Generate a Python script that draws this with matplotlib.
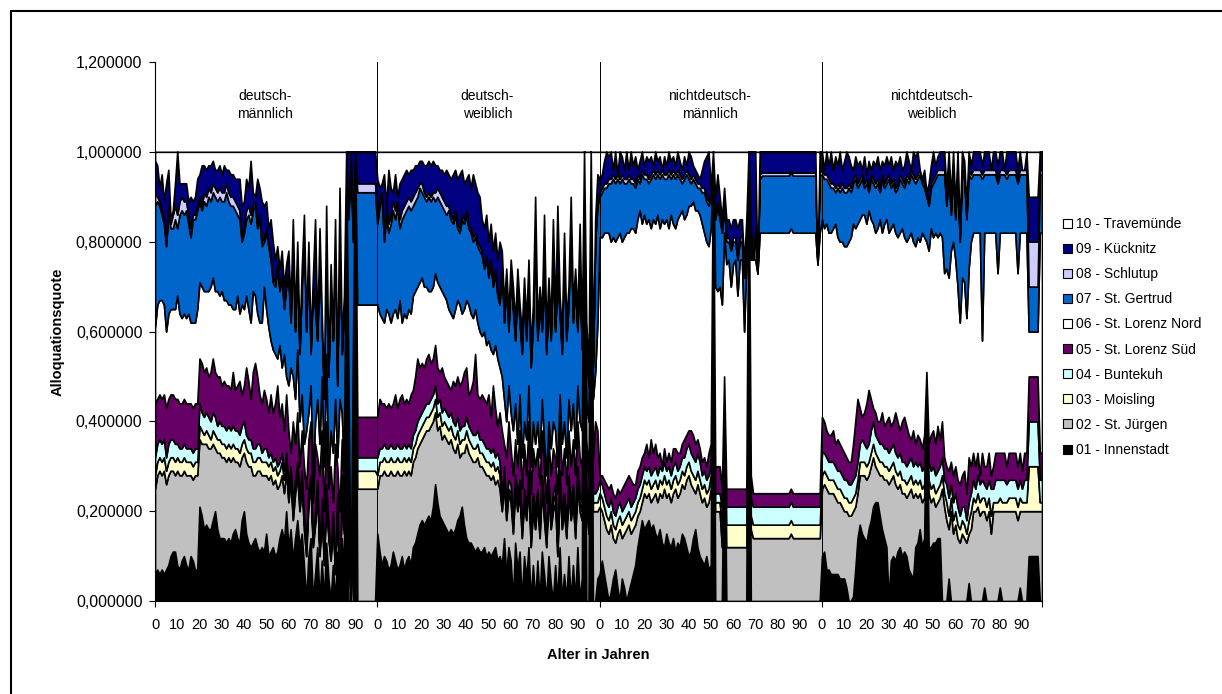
import numpy as np
import matplotlib.pyplot as plt
from matplotlib.patches import Patch, Rectangle
from matplotlib.ticker import FuncFormatter

plt.rcParams["font.family"] = ["Liberation Sans", "DejaVu Sans"]

bezirke = ["01 - Innenstadt", "02 - St. Jürgen", "03 - Moisling", "04 - Buntekuh",
           "05 - St. Lorenz Süd", "06 - St. Lorenz Nord", "07 - St. Gertrud",
           "08 - Schlutup", "09 - Kücknitz", "10 - Travemünde"]
farben = ["#000000", "#C0C0C0", "#FFFFCC", "#CCFFFF", "#660066",
          "#FFFFFF", "#0066CC", "#CCCCFF", "#000080", "#FFFFFF"]
gruppen = ["deutsch-\nmännlich", "deutsch-\nweiblich",
           "nichtdeutsch-\nmännlich", "nichtdeutsch-\nweiblich"]
alter_labels = ["0", "10", "20", "30", "40", "50", "60", "70", "80", "90"]

# Obergrenze jeder gestapelten Flaeche in Prozent, je Gruppe Alter 0-99
# dm = deutsch-maennlich, dw = deutsch-weiblich, nm/nw = nichtdeutsch
innenstadt_dm = [6, 7, 6, 7, 6, 7, 8, 10, 11, 11, 8, 7, 9, 10, 8, 7, 10, 9, 7, 7,
                 21, 19, 16, 17, 16, 16, 18, 20, 16, 14, 14, 14, 13, 14, 13, 15, 16, 14, 13, 18,
                 20, 15, 13, 12, 13, 14, 12, 11, 12, 11, 15, 10, 11, 12, 10, 11, 14, 16, 13, 20,
                 12, 16, 9, 14, 18, 12, 15, 8, 0, 10, 14, 0, 6, 12, 0, 9, 0, 13, 5, 0,
                 8, 0, 11, 0, 14, 6, 100, 0, 0, 0, 100, 0, 0, 0, 0, 0, 0, 0, 0, 0]
st_juergen_dm = [25, 28, 29, 28, 29, 26, 28, 29, 29, 28, 29, 28, 28, 29, 28, 28, 28, 27, 28, 28,
                 36, 35, 35, 35, 34, 34, 35, 34, 33, 33, 32, 32, 31, 32, 31, 32, 31, 31, 30, 32,
                 33, 31, 30, 30, 28, 28, 29, 29, 28, 28, 28, 27, 28, 26, 27, 25, 26, 28, 24, 29,
                 22, 27, 18, 24, 28, 20, 26, 16, 10, 22, 25, 12, 17, 24, 10, 20, 8, 24, 14, 9,
                 18, 6, 22, 0, 26, 15, 100, 20, 0, 30, 100, 25, 25, 25, 25, 25, 25, 25, 25, 25]
moisling_dm = [28, 31, 32, 31, 32, 29, 31, 32, 32, 31, 32, 31, 31, 32, 31, 31, 31, 30, 31, 31,
               39, 38, 37, 38, 37, 36, 38, 37, 36, 36, 35, 35, 34, 35, 34, 35, 34, 34, 33, 35,
               36, 34, 33, 33, 31, 31, 32, 32, 31, 31, 31, 30, 31, 29, 30, 28, 29, 31, 27, 31,
               24, 28, 20, 26, 30, 22, 27, 18, 12, 23, 27, 13, 18, 25, 11, 22, 9, 25, 15, 10,
               19, 7, 23, 0, 27, 16, 100, 22, 0, 32, 100, 29, 29, 29, 29, 29, 29, 29, 29, 29]
buntekuh_dm = [32, 35, 36, 35, 36, 32, 35, 36, 36, 35, 35, 34, 34, 35, 34, 34, 34, 33, 34, 34,
               44, 42, 41, 42, 41, 40, 42, 41, 39, 40, 39, 39, 38, 39, 38, 39, 38, 38, 37, 39,
               40, 37, 36, 36, 34, 34, 35, 35, 33, 34, 34, 32, 33, 31, 32, 30, 31, 33, 29, 33,
               26, 30, 22, 27, 31, 24, 29, 19, 14, 25, 28, 14, 20, 27, 12, 23, 10, 26, 17, 11,
               20, 8, 24, 0, 28, 17, 100, 24, 0, 35, 100, 32, 32, 32, 32, 32, 32, 32, 32, 32]
lorenz_sued_dm = [44, 45, 46, 45, 46, 43, 45, 46, 46, 45, 45, 44, 44, 45, 44, 44, 44, 43, 44, 44,
                  54, 53, 51, 52, 50, 51, 54, 51, 50, 50, 48, 49, 48, 48, 47, 51, 47, 48, 49, 46,
                  48, 52, 49, 45, 51, 53, 50, 46, 44, 47, 45, 42, 46, 42, 44, 48, 41, 44, 38, 46,
                  38, 33, 40, 35, 42, 30, 38, 30, 25, 36, 40, 22, 35, 32, 28, 38, 20, 40, 25, 30,
                  22, 35, 30, 20, 36, 25, 100, 30, 0, 45, 100, 41, 41, 41, 41, 41, 41, 41, 41, 41]
lorenz_nord_dm = [61, 66, 67, 67, 66, 60, 64, 65, 65, 65, 68, 64, 63, 64, 63, 64, 62, 62, 62, 65,
                  71, 70, 69, 69, 69, 70, 72, 69, 69, 68, 69, 67, 67, 66, 66, 65, 65, 68, 64, 66,
                  65, 68, 65, 62, 69, 68, 64, 62, 62, 70, 65, 61, 58, 56, 55, 54, 57, 52, 55, 50,
                  48, 52, 50, 45, 56, 40, 46, 35, 38, 42, 48, 28, 40, 45, 35, 50, 30, 55, 28, 38,
                  33, 45, 32, 45, 42, 30, 100, 50, 0, 55, 100, 66, 66, 66, 66, 66, 66, 66, 66, 66]
st_gertrud_dm = [88, 89, 88, 86, 84, 79, 87, 83, 83, 85, 83, 86, 87, 86, 87, 84, 81, 85, 85, 87,
                 89, 87, 89, 88, 90, 89, 91, 90, 89, 90, 89, 89, 91, 89, 88, 88, 87, 86, 85, 80,
                 82, 85, 86, 84, 87, 88, 83, 85, 79, 80, 82, 79, 76, 71, 70, 74, 69, 72, 65, 70,
                 72, 62, 80, 60, 75, 55, 70, 84, 60, 78, 55, 70, 65, 58, 80, 62, 45, 85, 50, 72,
                 58, 82, 48, 90, 55, 65, 100, 85, 100, 80, 100, 91, 91, 91, 91, 91, 91, 91, 91, 91]
schlutup_dm = [91, 90, 89, 87, 85, 80, 88, 84, 86, 88, 86, 89, 90, 89, 89, 86, 83, 86, 86, 88,
               90, 88, 91, 90, 92, 91, 93, 92, 91, 92, 91, 91, 93, 91, 90, 90, 89, 88, 87, 81,
               84, 87, 88, 86, 88, 89, 84, 86, 80, 81, 83, 80, 77, 72, 71, 75, 70, 73, 66, 71,
               73, 63, 81, 61, 76, 56, 71, 85, 61, 79, 56, 70, 66, 58, 81, 62, 46, 86, 50, 73,
               58, 83, 48, 90, 55, 66, 100, 86, 100, 82, 100, 93, 93, 93, 93, 93, 93, 93, 93, 93]
kuecknitz_dm = [98, 97, 92, 95, 89, 93, 96, 85, 87, 93, 100, 93, 93, 93, 93, 89, 90, 89, 90, 94,
                95, 97, 97, 96, 97, 97, 98, 96, 96, 97, 95, 97, 96, 96, 95, 95, 94, 94, 94, 88,
                89, 94, 92, 98, 91, 90, 94, 92, 89, 88, 89, 83, 85, 80, 76, 79, 74, 78, 70, 75,
                78, 66, 85, 63, 80, 58, 74, 86, 62, 80, 58, 72, 85, 60, 83, 64, 48, 88, 52, 75,
                60, 85, 50, 92, 58, 68, 100, 100, 100, 100, 100, 100, 100, 100, 100, 100, 100, 100, 100, 100]

innenstadt_dw = [15, 11, 8, 10, 9, 7, 8, 11, 9, 7, 8, 10, 7, 9, 10, 8,
                 12, 13, 15, 17, 18, 17, 18, 19, 18, 21, 26, 22, 19, 18, 17, 16,
                 15, 16, 15, 16, 18, 19, 21, 17, 14, 13, 13, 12, 11, 12, 11, 11,
                 12, 10, 11, 10, 11, 12, 9, 10,
                 8, 14, 6, 12, 9, 0, 13, 7, 11, 0, 10, 5, 12, 0, 8, 0, 9, 0, 11, 6,
                 0, 10, 4, 0, 8, 0, 12, 0, 6, 0, 10, 0, 8, 0, 12, 0, 5, 100, 0, 0, 100, 0, 0, 5]
st_juergen_dw = [25, 28, 28, 29, 28, 28, 29, 28, 28, 29, 28, 28, 29, 28, 29, 28,
                 31, 32, 34, 35, 36, 37, 38, 38, 39, 40, 42, 38, 39, 36, 37, 36,
                 35, 36, 34, 33, 35, 32, 33, 33, 35, 33, 32, 31, 31, 32, 30, 30,
                 29, 28, 28, 27, 28, 26, 27, 25,
                 20, 26, 18, 24, 22, 15, 25, 20, 24, 14, 22, 18, 26, 12, 20, 16, 22, 14, 25, 18,
                 12, 24, 16, 20, 22, 10, 26, 16, 20, 14, 24, 18, 22, 14, 26, 20, 18, 100, 22, 15, 100, 20, 20, 20]
moisling_dw = [28, 31, 31, 32, 31, 31, 32, 31, 31, 32, 31, 31, 32, 31, 32, 31,
               34, 35, 37, 38, 39, 40, 41, 41, 42, 43, 45, 41, 42, 39, 40, 39,
               38, 39, 37, 36, 38, 35, 36, 36, 38, 36, 35, 34, 34, 35, 33, 33,
               32, 31, 31, 30, 31, 29, 30, 28,
               22, 28, 20, 25, 24, 17, 27, 22, 26, 16, 23, 20, 28, 14, 22, 18, 24, 16, 26, 20,
               14, 25, 18, 22, 24, 12, 28, 18, 22, 16, 26, 20, 24, 16, 28, 22, 20, 100, 24, 17, 100, 22, 22, 22]
buntekuh_dw = [32, 34, 34, 35, 34, 34, 35, 34, 34, 35, 34, 34, 35, 34, 35, 34,
               37, 38, 40, 41, 42, 43, 44, 44, 45, 46, 48, 44, 45, 42, 43, 42,
               41, 42, 40, 39, 41, 38, 39, 39, 41, 39, 38, 37, 37, 38, 36, 36,
               35, 34, 34, 33, 34, 32, 33, 31,
               24, 30, 22, 27, 26, 19, 28, 24, 27, 17, 25, 21, 29, 15, 24, 20, 25, 17, 28, 22,
               15, 27, 19, 24, 26, 14, 29, 20, 24, 18, 28, 22, 26, 18, 30, 24, 22, 100, 26, 19, 100, 24, 24, 25]
lorenz_sued_dw = [41, 45, 44, 44, 43, 44, 43, 44, 46, 43, 45, 46, 44, 45, 44, 46,
                  47, 50, 54, 52, 53, 52, 54, 55, 53, 54, 57, 52, 51, 52, 50, 49,
                  48, 47, 49, 48, 50, 48, 49, 51, 52, 46, 47, 49, 55, 46, 45, 46,
                  45, 44, 46, 41, 48, 43, 39, 42,
                  38, 35, 32, 40, 34, 28, 36, 30, 38, 25, 35, 28, 40, 24, 34, 30, 34, 26, 38, 30,
                  22, 36, 28, 34, 32, 24, 40, 28, 34, 26, 38, 30, 36, 28, 40, 32, 30, 100, 36, 28, 100, 32, 40, 38]
lorenz_nord_dw = [66, 64, 63, 62, 65, 64, 62, 64, 65, 63, 67, 62, 64, 63, 65, 64,
                  68, 69, 70, 71, 72, 70, 70, 69, 69, 70, 73, 71, 70, 69, 68, 67,
                  65, 64, 63, 65, 67, 66, 64, 65, 67, 66, 64, 63, 65, 62, 60, 59,
                  60, 57, 58, 56, 55, 57, 54, 52,
                  50, 45, 40, 48, 42, 38, 44, 35, 46, 32, 40, 36, 48, 30, 40, 35, 40, 32, 45, 36,
                  28, 40, 34, 40, 38, 30, 46, 35, 40, 32, 45, 38, 44, 34, 48, 40, 38, 100, 45, 40, 100, 45, 51, 62]
st_gertrud_dw = [84, 88, 90, 80, 86, 82, 84, 87, 85, 88, 83, 85, 86, 87, 88, 87,
                 88, 89, 90, 92, 91, 90, 89, 90, 89, 90, 89, 90, 89, 88, 87, 86,
                 87, 85, 84, 86, 83, 82, 85, 84, 86, 83, 82, 80, 81, 79, 78, 77,
                 74, 76, 72, 75, 70, 73, 68, 66,
                 75, 62, 70, 60, 72, 65, 58, 70, 62, 55, 68, 58, 72, 52, 62, 80, 58, 66, 60, 74,
                 55, 68, 58, 75, 60, 72, 64, 55, 78, 58, 66, 85, 62, 70, 60, 74, 56, 100, 58, 48, 100, 52, 80, 88]
schlutup_dw = [86, 90, 91, 82, 88, 84, 86, 89, 87, 89, 85, 87, 88, 89, 90, 89,
               90, 91, 92, 93, 93, 91, 90, 91, 90, 91, 91, 92, 91, 90, 89, 88,
               88, 86, 85, 87, 84, 83, 86, 85, 87, 84, 83, 81, 82, 80, 79, 78,
               75, 77, 73, 76, 71, 74, 69, 67,
               76, 63, 71, 61, 73, 66, 59, 71, 63, 56, 69, 59, 73, 53, 63, 82, 59, 67, 61, 75,
               56, 69, 59, 76, 61, 73, 65, 56, 79, 59, 67, 86, 63, 71, 61, 75, 57, 100, 59, 49, 100, 53, 81, 89]
kuecknitz_dw = [94, 92, 93, 95, 88, 96, 92, 91, 95, 90, 93, 94, 95, 96, 95, 96,
                96, 97, 97, 98, 98, 97, 97, 98, 97, 98, 97, 97, 96, 96, 95, 96,
                95, 94, 95, 96, 94, 95, 96, 93, 94, 95, 92, 95, 93, 91, 90, 85,
                83, 86, 80, 84, 78, 82, 76, 80,
                78, 66, 74, 64, 76, 70, 62, 74, 66, 60, 72, 62, 76, 56, 66, 90, 62, 70, 64, 86,
                60, 72, 62, 85, 64, 88, 68, 60, 82, 62, 70, 90, 66, 74, 64, 84, 60, 100, 62, 52, 100, 56, 85, 95]

innenstadt_nm = [6, 9, 6, 3, 0, 2, 5, 7, 3, 0, 5, 3, 0, 2, 4, 6,
                 8, 12, 15, 18, 16, 17, 18, 16, 17, 15, 14, 16, 13, 12, 15, 13,
                 12, 14, 11, 13, 12, 15, 14, 12, 10, 11, 14, 16, 12, 10, 9, 8, 10, 7,
                 8, 100, 0, 0, 0, 0, 45, 0, 0, 0, 0, 0, 0, 0, 0, 0, 0, 100, 0, 0,
                 0, 0, 0, 0, 0, 0, 0, 0, 0, 0, 0, 0, 0, 0, 0, 0, 0, 0, 0, 0,
                 0, 0, 0, 0, 0, 0, 0, 0, 0, 0]
st_juergen_nm = [21, 20, 18, 16, 15, 17, 14, 13, 15, 16, 14, 15, 16, 17, 15, 16,
                 17, 19, 20, 22, 24, 23, 24, 22, 23, 24, 22, 24, 23, 25, 23, 24,
                 22, 24, 25, 23, 24, 26, 25, 27, 28, 26, 25, 24, 26, 24, 22, 23, 21, 22,
                 25, 100, 20, 20, 20, 12, 46, 12, 12, 12, 12, 12, 12, 12, 12, 12, 12, 100, 16, 14,
                 14, 14, 14, 14, 14, 14, 14, 14, 14, 14, 14, 14, 14, 14, 14, 14, 15, 14, 14, 14,
                 14, 14, 14, 14, 14, 14, 14, 14, 14, 14]
moisling_nm = [24, 23, 21, 19, 18, 20, 17, 16, 18, 19, 17, 18, 19, 20, 18, 19,
               20, 22, 23, 25, 27, 26, 27, 25, 26, 27, 25, 27, 26, 28, 26, 27,
               25, 27, 28, 26, 27, 29, 28, 30, 31, 29, 28, 27, 29, 27, 25, 26, 24, 25,
               28, 100, 22, 22, 22, 17, 47, 17, 17, 17, 17, 17, 17, 17, 17, 17, 17, 100, 19, 17,
               17, 17, 17, 17, 17, 17, 17, 17, 17, 17, 17, 17, 17, 17, 17, 17, 18, 17, 17, 17,
               17, 17, 17, 17, 17, 17, 17, 17, 17, 17]
buntekuh_nm = [27, 26, 24, 22, 21, 23, 20, 19, 21, 22, 20, 21, 22, 23, 21, 22,
               23, 25, 26, 28, 30, 29, 30, 28, 29, 30, 28, 30, 29, 31, 29, 30,
               28, 30, 31, 29, 30, 32, 32, 34, 35, 33, 32, 31, 33, 31, 28, 29, 27, 28,
               31, 100, 24, 24, 24, 21, 48, 21, 21, 21, 21, 21, 21, 21, 21, 21, 21, 100, 23, 21,
               21, 21, 21, 21, 21, 21, 21, 21, 21, 21, 21, 21, 21, 21, 21, 21, 22, 21, 21, 21,
               21, 21, 21, 21, 21, 21, 21, 21, 21, 21]
lorenz_sued_nm = [28, 28, 27, 26, 25, 26, 24, 23, 25, 24, 25, 26, 27, 28, 27, 26,
                  26, 29, 30, 32, 33, 35, 32, 36, 33, 35, 32, 33, 30, 34, 31, 33,
                  31, 34, 34, 33, 33, 35, 36, 37, 38, 38, 37, 35, 36, 34, 31, 32, 30, 33,
                  35, 100, 30, 30, 30, 25, 50, 25, 25, 25, 25, 25, 25, 25, 25, 25, 25, 100, 28, 24,
                  24, 24, 24, 24, 24, 24, 24, 24, 24, 24, 24, 24, 24, 24, 24, 24, 25, 24, 24, 24,
                  24, 24, 24, 24, 24, 24, 24, 24, 24, 24]
lorenz_nord_nm = [81, 81, 82, 82, 82, 80, 81, 80, 81, 82, 80, 81, 82, 82, 83, 83,
                  82, 85, 87, 84, 86, 84, 85, 83, 85, 84, 86, 83, 85, 84, 85, 83,
                  86, 84, 83, 85, 86, 87, 85, 86, 88, 88, 89, 87, 87, 86, 84, 82, 80, 79,
                  83, 100, 70, 69, 70, 66, 82, 75, 76, 70, 75, 76, 68, 76, 76, 60, 76, 100, 76, 76,
                  76, 73, 82, 82, 82, 82, 82, 82, 82, 82, 82, 82, 82, 82, 82, 82, 83, 82, 82, 82,
                  82, 82, 82, 82, 82, 82, 82, 82, 75, 82]
st_gertrud_nm = [90, 91, 92, 92, 93, 93, 94, 93, 94, 93, 94, 93, 93, 94, 93, 93,
                 92, 94, 93, 95, 94, 94, 93, 94, 95, 94, 95, 94, 95, 94, 94, 95,
                 94, 95, 94, 95, 94, 93, 94, 95, 94, 93, 94, 93, 92, 92, 91, 91, 89, 88,
                 90, 100, 85, 88, 85, 82, 88, 80, 80, 78, 80, 80, 76, 80, 80, 72, 80, 100, 82, 76,
                 82, 73, 94, 94.7, 94.7, 94.7, 94.7, 94.7, 94.7, 94.7, 94.7, 94.7, 94.7, 94.7, 94.7, 94.7, 95.5, 94.7, 94.7, 94.7,
                 94.7, 94.7, 94.7, 94.7, 94.7, 94.7, 94.7, 94.7, 75, 94.7]
schlutup_nm = [91, 92, 93, 93, 94, 94, 95, 94, 95, 94, 95, 94, 94, 95, 94, 94,
               93, 95, 94, 96, 95, 95, 94, 95, 96, 95, 96, 95, 96, 95, 95, 96,
               95, 96, 95, 96, 95, 94, 95, 96, 95, 94, 95, 94, 93, 93, 92, 92, 90, 89,
               91, 100, 86, 89, 86, 83, 89, 81, 81, 79, 81, 81, 77, 81, 81, 73, 81, 100, 83, 76,
               83, 73, 95, 95.4, 95.4, 95.4, 95.4, 95.4, 95.4, 95.4, 95.4, 95.4, 95.4, 95.4, 95.4, 95.4, 96, 95.4, 95.4, 95.4,
               95.4, 95.4, 95.4, 95.4, 95.4, 95.4, 95.4, 95.4, 75, 95.4]
kuecknitz_nm = [94, 95, 98, 100, 99, 100, 96, 100, 95, 100, 99, 96, 100, 96, 100, 97,
                99, 96, 98, 100, 97, 99, 98, 99, 97, 100, 98, 99, 96, 99, 97, 100,
                98, 99, 97, 100, 98, 96, 99, 97, 100, 99, 97, 96, 95, 94, 96, 98, 99, 100,
                92, 100, 90, 95, 90, 85, 92, 85, 85, 83, 85, 85, 83, 85, 85, 75, 85, 100, 100, 100,
                100, 73, 100, 100, 100, 100, 100, 100, 100, 100, 100, 100, 100, 100, 100, 100, 100, 100, 100, 100,
                100, 100, 100, 100, 100, 100, 100, 100, 75, 100]

innenstadt_nw = [10, 11, 7, 7, 6, 6, 6, 6, 5, 5, 5, 3, 0, 0, 1,
                 7, 14, 17, 15, 14, 13, 16, 18, 21, 22, 22, 19, 16, 14, 12,
                 0, 9, 10, 9, 11, 12, 10, 11, 10, 7, 6, 5, 12, 13, 16,
                 12, 14, 50, 12, 12, 13, 13, 14, 14, 0,
                 0, 0, 5, 0, 0, 0, 0, 0, 0, 0, 0, 4, 0, 0, 0, 0, 0, 0, 3, 0,
                 0, 0, 0, 0, 0, 3, 0, 0, 0, 0, 0, 0, 0, 0, 3, 0, 0, 0, 10, 10,
                 10, 10, 10, 0, 0]
st_juergen_nw = [25, 26, 25, 24, 24, 24, 23, 22, 22, 21, 20, 20, 19, 19, 20,
                 21, 24, 28, 28, 28, 27, 28, 30, 32, 30, 29, 28, 28, 27, 27,
                 26, 27, 28, 26, 25, 26, 24, 24, 23, 24, 25, 23, 24, 23, 24,
                 22, 23, 50, 24, 22, 23, 21, 22, 23, 25,
                 21, 18, 16, 20, 15, 17, 14, 13, 15, 14, 13, 15, 16, 20, 20, 21, 19, 20, 20, 18,
                 20, 15, 20, 20, 20, 20, 20, 20, 20, 20, 20, 20, 20, 18, 20, 20, 20, 20, 20, 20,
                 20, 20, 20, 20, 20]
moisling_nw = [28, 29, 28, 27, 27, 27, 26, 25, 25, 24, 23, 23, 22, 22, 23,
               24, 27, 31, 31, 31, 30, 31, 33, 35, 33, 32, 31, 31, 30, 30,
               29, 30, 31, 29, 28, 29, 27, 27, 26, 27, 28, 26, 27, 26, 27,
               25, 26, 51, 27, 25, 26, 24, 25, 26, 28,
               24, 22, 19, 23, 18, 20, 17, 16, 18, 17, 15, 18, 20, 23, 22, 24, 22, 23, 23, 21,
               23, 19, 22, 22, 22, 23, 22, 22, 22, 23, 23, 23, 23, 21, 23, 22, 22, 22, 30, 30,
               30, 30, 30, 22, 22]
buntekuh_nw = [33, 33, 32, 31, 31, 31, 30, 29, 29, 28, 27, 27, 26, 26, 27,
               28, 31, 35, 36, 35, 34, 35, 38, 40, 37, 36, 35, 35, 34, 34,
               33, 34, 35, 33, 32, 33, 31, 31, 30, 31, 32, 30, 31, 30, 31,
               29, 30, 51, 31, 29, 30, 28, 29, 30, 32,
               27, 26, 23, 26, 22, 24, 21, 19, 21, 21, 18, 22, 24, 27, 25, 28, 26, 27, 26, 25,
               27, 25, 25, 27, 27, 27, 27, 27, 26, 27, 27, 27, 27, 25, 27, 25, 27, 27, 40, 40,
               40, 40, 40, 27, 27]
lorenz_sued_nw = [41, 40, 38, 37, 37, 38, 35, 36, 35, 34, 33, 32, 31, 31, 35,
                  40, 45, 43, 41, 42, 44, 47, 45, 43, 42, 40, 40, 42, 39, 40,
                  41, 39, 40, 42, 40, 38, 40, 41, 39, 37, 36, 38, 35, 37, 36,
                  34, 37, 51, 35, 37, 38, 35, 39, 36, 40,
                  32, 30, 29, 31, 28, 30, 27, 26, 28, 29, 24, 32, 30, 33, 30, 33, 28, 33, 30, 30,
                  33, 28, 30, 33, 33, 33, 33, 33, 30, 33, 33, 33, 33, 30, 33, 29, 33, 33, 50, 50,
                  50, 50, 50, 33, 33]
lorenz_nord_nw = [85, 83, 84, 82, 82, 83, 84, 81, 80, 80, 79, 79, 80, 81, 84,
                  83, 84, 85, 86, 86, 84, 87, 85, 84, 82, 83, 85, 82, 84, 85,
                  82, 83, 84, 82, 81, 82, 83, 81, 80, 81, 82, 80, 79, 81, 80,
                  82, 81, 80, 78, 83, 81, 82, 81, 82, 81,
                  73, 74, 72, 78, 80, 76, 70, 62, 72, 71, 63, 74, 80, 82, 82, 82, 82, 58, 82, 82,
                  82, 82, 82, 82, 73, 82, 82, 82, 82, 82, 82, 82, 82, 73, 82, 82, 82, 82, 60, 60,
                  60, 60, 60, 82, 82]
st_gertrud_nw = [95, 94, 94, 93, 92, 92, 91, 92, 91, 92, 91, 91, 92, 91, 93,
                 94, 92, 93, 94, 92, 93, 91, 94, 93, 92, 93, 91, 94, 92, 93,
                 94, 92, 93, 91, 92, 94, 93, 92, 94, 93, 95, 94, 93, 94, 95,
                 93, 92, 90, 88, 92, 93, 94, 95, 95, 95,
                 95, 88, 95, 86, 95, 85, 95, 80, 95, 94, 85, 95, 94, 95, 95, 95, 95, 94, 95, 95,
                 95, 95, 95, 95, 93, 95, 95, 95, 94, 95, 95, 95, 95, 93, 95, 95, 95, 95, 70, 70,
                 70, 70, 70, 95, 95]
schlutup_nw = [96, 95, 95, 94, 93, 93, 92, 93, 92, 93, 92, 92, 93, 92, 94,
               95, 93, 94, 95, 93, 94, 92, 95, 94, 93, 94, 92, 95, 93, 94,
               95, 93, 94, 92, 93, 95, 94, 93, 95, 94, 96, 95, 94, 95, 96,
               94, 93, 91, 89, 93, 94, 95, 96, 96, 96,
               96, 89, 96, 87, 96, 86, 96, 81, 96, 95, 86, 96, 95, 96, 96, 96, 96, 95, 96, 96,
               96, 96, 96, 96, 94, 96, 96, 96, 95, 96, 96, 96, 96, 94, 96, 96, 96, 96, 80, 80,
               80, 80, 80, 96, 96]
kuecknitz_nw = [100, 96, 100, 97, 100, 96, 99, 97, 100, 96, 98, 100, 99, 97, 96,
                99, 97, 98, 96, 99, 95, 98, 96, 98, 97, 99, 96, 98, 97, 99,
                97, 99, 96, 98, 97, 99, 96, 97, 100, 98, 95, 100, 99, 100, 94,
                91, 96, 88, 93, 97, 100, 97, 99, 100, 100,
                100, 92, 100, 90, 100, 88, 100, 83, 100, 98, 88, 100, 97, 100, 100, 100, 100, 97, 100, 100,
                100, 96, 100, 100, 97, 100, 100, 96, 100, 100, 100, 100, 100, 96, 100, 96, 96, 100, 90, 90,
                90, 90, 90, 100, 100]

innenstadt = innenstadt_dm + innenstadt_dw + innenstadt_nm + innenstadt_nw
st_juergen = st_juergen_dm + st_juergen_dw + st_juergen_nm + st_juergen_nw
moisling = moisling_dm + moisling_dw + moisling_nm + moisling_nw
buntekuh = buntekuh_dm + buntekuh_dw + buntekuh_nm + buntekuh_nw
lorenz_sued = lorenz_sued_dm + lorenz_sued_dw + lorenz_sued_nm + lorenz_sued_nw
lorenz_nord = lorenz_nord_dm + lorenz_nord_dw + lorenz_nord_nm + lorenz_nord_nw
st_gertrud = st_gertrud_dm + st_gertrud_dw + st_gertrud_nm + st_gertrud_nw
schlutup = schlutup_dm + schlutup_dw + schlutup_nm + schlutup_nw
kuecknitz = kuecknitz_dm + kuecknitz_dw + kuecknitz_nm + kuecknitz_nw

kanten = np.array([innenstadt, st_juergen, moisling, buntekuh, lorenz_sued,
                   lorenz_nord, st_gertrud, schlutup, kuecknitz], dtype=float) / 100
kanten = np.maximum.accumulate(kanten, axis=0)
kanten = np.vstack([kanten, np.ones(kanten.shape[1])])   # Travemuende fuellt bis 1
anteile = np.diff(np.vstack([np.zeros(kanten.shape[1]), kanten]), axis=0)
x = np.arange(kanten.shape[1])

fig = plt.figure(figsize=(12.22, 6.94), dpi=100)
ax = fig.add_axes([155 / 1222, 93 / 694, 887 / 1222, 539 / 694])

ax.stackplot(x, anteile, colors=farben, edgecolor="black", linewidth=1.2)

# Gruppentrenner und Kopfzeile
for g in range(1, 4):
    ax.axvline(g * 100, color="black", lw=0.7, zorder=5)
for g, name in enumerate(gruppen):
    ax.text(g * 100 + 49.5, 1.104, name, ha="center", va="center", fontsize=10,
            linespacing=1.35)

ax.set_xlim(0, 399)
ax.set_ylim(0, 1.2)
ax.set_yticks(np.arange(0, 1.21, 0.2))
ax.yaxis.set_major_formatter(FuncFormatter(lambda v, p: f"{v:.6f}".replace(".", ",")))
ax.tick_params(axis="y", labelsize=11.5, length=4, width=0.8, pad=5)

ax.xaxis.remove_overlapping_locs = False
ax.set_xticks([0, 100, 200, 300, 399])
ax.set_xticklabels([])
ax.tick_params(axis="x", which="major", length=4, width=0.8)
pos = [g * 100 + a for g in range(4) for a in range(0, 100, 10)]
ax.set_xticks(pos, minor=True)
ax.set_xticklabels(alter_labels * 4, minor=True)
ax.tick_params(axis="x", which="minor", length=0, labelsize=10.5, pad=12)

for s in ["top", "right"]:
    ax.spines[s].set_visible(False)
for s in ["left", "bottom"]:
    ax.spines[s].set_linewidth(0.8)

ax.set_ylabel("Alloquationsquote", fontsize=10.5, fontweight="bold")
ax.yaxis.set_label_coords(-0.1015, 0.5)
ax.set_xlabel("Alter in Jahren", fontsize=10.5, fontweight="bold")
ax.xaxis.set_label_coords(0.4994, -0.087)

handles = [Patch(facecolor=c, edgecolor="black", linewidth=0.8) for c in farben]
fig.legend(handles[::-1], bezirke[::-1], loc="upper left",
           bbox_to_anchor=(1056 / 1222, 1 - 210 / 694), frameon=False,
           fontsize=10, handlelength=0.62, handleheight=0.62,
           handletextpad=0.35, labelspacing=0.8, borderpad=0)

fig.patches.append(Rectangle((11 / 1222, -0.05), 1.2, 1 - 11 / 694 + 0.05,
                             transform=fig.transFigure, fill=False,
                             edgecolor="black", linewidth=1.5))

fig.savefig("out.png", dpi=100)
